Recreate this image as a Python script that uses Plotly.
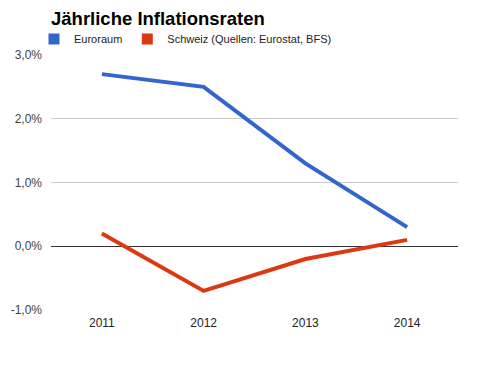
import plotly.graph_objects as go

years = ["2011", "2012", "2013", "2014"]
euroraum = [2.7, 2.5, 1.3, 0.3]
schweiz = [0.2, -0.7, -0.2, 0.1]
series_names = ["Euroraum", "Schweiz (Quellen: Eurostat, BFS)"]
colors = ["#3366cc", "#dc3912"]
tick_vals = [-1, 0, 1, 2, 3]
tick_text = ["-1,0%", "0,0%", "1,0%", "2,0%", "3,0%"]

# page body has an 8px default margin
OFF = 8
W, H = 477 - OFF, 384 - OFF
ML, MR, MT, MB = 51 - OFF, 19, 55 - OFF, 74
PW, PH = W - ML - MR, H - MT - MB

fig = go.Figure()
for name, vals, c in zip(series_names, [euroraum, schweiz], colors):
    fig.add_trace(go.Scatter(x=years, y=vals, mode="lines", name=name,
                             line=dict(color=c, width=4), showlegend=False))
for name, c in zip(series_names, colors):
    fig.add_trace(go.Scatter(x=[None], y=[None], mode="markers", name=name,
                             marker=dict(color=c, size=11, symbol="square"),
                             showlegend=True))

fig.update_layout(
    width=W, height=H,
    margin=dict(l=ML, r=MR, t=MT, b=MB),
    paper_bgcolor="white", plot_bgcolor="white",
    font=dict(family="Liberation Sans, Arial", size=11, color="#222"),
    title=dict(text="<b>Jährliche Inflationsraten</b>", x=ML / W, xanchor="left",
               y=1 - (19 - OFF) / H, yanchor="middle", font=dict(size=18.5, color="#000"),
               automargin=False),
    legend=dict(orientation="h", x=-17 / PW, xanchor="left", y=1 + 16 / PH,
                yanchor="middle", font=dict(size=11, color="#222"),
                itemwidth=30, tracegroupgap=0, bgcolor="rgba(0,0,0,0)"),
    xaxis=dict(type="category", range=[-0.5, 3.5], showgrid=False, showline=False,
               ticks="", tickfont=dict(size=12, color="#222"), zeroline=False,
               automargin=False, ticklabelstandoff=4),
    yaxis=dict(range=[-1, 3], tickvals=tick_vals, ticktext=tick_text,
               showgrid=True, gridcolor="#cccccc", gridwidth=1,
               zeroline=True, zerolinecolor="#333333", zerolinewidth=1,
               tickfont=dict(size=12, color="#444"), ticks="", ticklabelstandoff=8,
               automargin=False),
)
fig.write_html("out.html")
